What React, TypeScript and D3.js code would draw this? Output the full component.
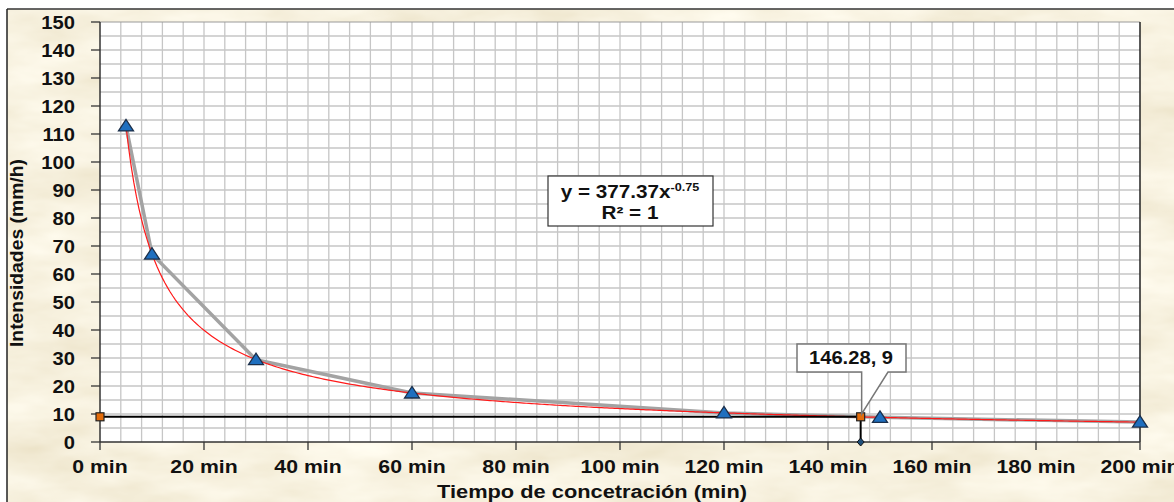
import React from "react";
import * as d3 from "d3";

const durations = [5, 10, 30, 60, 120, 150, 200];
const intensities = [112.9, 67.1, 29.4, 17.5, 10.4, 8.8, 7.1];
const trendCoef = 377.37;
const trendExp = -0.75;
const xTicks = [0, 20, 40, 60, 80, 100, 120, 140, 160, 180, 200];
const yTicks = [0, 10, 20, 30, 40, 50, 60, 70, 80, 90, 100, 110, 120, 130, 140, 150];
const markX = 146.28;
const markY = 9;

const W = 1174, H = 502;
const L = 100, R = 1140, T = 22, B = 442;
const FONT = "'Liberation Sans', Arial, sans-serif";
const SX = 1.18;

function ST(props: { x: number; y: number; size?: number; anchor?: string; sx?: number; children: React.ReactNode }) {
  const { x, y, size = 18, anchor = "middle", sx = SX, children } = props;
  return (
    <text transform={`translate(${x},${y}) scale(${sx},1)`} textAnchor={anchor} fontSize={size} fontWeight="bold" fill="#111">
      {children}
    </text>
  );
}

export default function App() {
  const x = d3.scaleLinear().domain([0, 200]).range([L, R]);
  const y = d3.scaleLinear().domain([0, 150]).range([B, T]);
  const pts = durations.map((d, i) => [d, intensities[i]] as [number, number]);
  const grayLine = d3.line<[number, number]>().x(d => x(d[0])).y(d => y(d[1]))(pts) || "";
  const curvePts: [number, number][] = d3.range(5, 200.01, 0.5).map(t => [t, trendCoef * Math.pow(t, trendExp)]);
  const redLine = d3.line<[number, number]>().x(d => x(d[0])).y(d => y(d[1]))(curvePts) || "";
  const vGrid = d3.range(4, 200, 4);
  const hGrid = d3.range(5, 150, 5);
  const mx = x(markX), my = y(markY);
  const tri = (cx: number, cy: number) => `M${cx - 7.5},${cy + 5} L${cx},${cy - 6.5} L${cx + 7.5},${cy + 5} Z`;
  const bx0 = 797, bx1 = 906, by0 = 344, by1 = 372;
  const callout = `M${bx0},${by0} L${bx1},${by0} L${bx1},${by1} L888,${by1} L${mx + 1},${my - 3} L${mx + 1},${by1} L${bx0},${by1} Z`;
  return (
    <svg width={W} height={H} style={{ position: "absolute", left: 0, top: 0 }} fontFamily={FONT}>
      <defs>
        <filter id="parch" x="0" y="0" width="100%" height="100%">
          <feTurbulence type="fractalNoise" baseFrequency="0.01 0.03" numOctaves={4} seed={7} result="n" />
          <feColorMatrix in="n" type="matrix"
            values="0.2 0 0 0 0.83  0.25 0 0 0 0.755  0.35 0 0 0 0.56  0 0 0 0 1" />
        </filter>
      </defs>
      <rect x={0} y={0} width={W} height={H} fill="#ffffff" />
      <rect x={7} y={9} width={W - 7} height={H - 9} fill="#ecdcb6" />
      <rect x={7} y={9} width={W - 7} height={H - 9} filter="url(#parch)" />
      <line x1={7} y1={9} x2={W} y2={9} stroke="#333" strokeWidth={1.5} />
      <line x1={7} y1={9} x2={7} y2={H} stroke="#222" strokeWidth={1.5} />

      <rect x={L} y={T} width={R - L} height={B - T} fill="#ffffff" />
      {vGrid.map(v => (
        <line key={"v" + v} x1={x(v)} x2={x(v)} y1={T} y2={B} stroke="#c6c6c6" strokeWidth={1.3} />
      ))}
      {hGrid.map(v => (
        <line key={"h" + v} x1={L} x2={R} y1={y(v)} y2={y(v)} stroke="#c6c6c6" strokeWidth={1.3} />
      ))}
      <line x1={L} x2={R} y1={T} y2={T} stroke="#9a9a9a" strokeWidth={1} />
      <line x1={R} x2={R} y1={T} y2={B} stroke="#222" strokeWidth={1.5} />
      <line x1={L} x2={L} y1={T} y2={B} stroke="#333" strokeWidth={1.5} />
      <line x1={L} x2={R} y1={B} y2={B} stroke="#333" strokeWidth={1.5} />

      {yTicks.map(v => (
        <g key={"yt" + v}>
          <line x1={L - 9} x2={L} y1={y(v)} y2={y(v)} stroke="#333" strokeWidth={1.3} />
          <ST x={75} y={y(v) + 6.5} anchor="end" sx={1.12}>{v}</ST>
        </g>
      ))}
      {xTicks.map(v => (
        <g key={"xt" + v}>
          <line x1={x(v)} x2={x(v)} y1={B} y2={B + 8} stroke="#333" strokeWidth={1.3} />
          <ST x={x(v)} y={473}>{v} min</ST>
        </g>
      ))}
      <text x={592} y={498} textAnchor="middle" fontSize={18} fontWeight="bold" fill="#111"
        textLength={310} lengthAdjust="spacingAndGlyphs">Tiempo de concetración (min)</text>
      <text transform="translate(23,253) rotate(-90)" textAnchor="middle" fontSize={18} fontWeight="bold" fill="#111"
        textLength={188} lengthAdjust="spacingAndGlyphs">Intensidades (mm/h)</text>

      <path d={grayLine} fill="none" stroke="#a3a3a3" strokeWidth={3.5} strokeLinejoin="round" />
      <path d={redLine} fill="none" stroke="#ff1a1a" strokeWidth={1.2} />

      <line x1={x(0)} x2={mx} y1={my} y2={my} stroke="#000" strokeWidth={2} />
      <line x1={mx} x2={mx} y1={my} y2={y(0)} stroke="#000" strokeWidth={2} />
      <rect x={x(0) - 4} y={my - 4} width={8} height={8} fill="#e46c0a" stroke="#222" strokeWidth={1.2} />
      <rect x={mx - 4} y={my - 4} width={8} height={8} fill="#e46c0a" stroke="#222" strokeWidth={1.2} />
      <path d={`M${mx},${y(0) - 4} L${mx + 3.5},${y(0)} L${mx},${y(0) + 4} L${mx - 3.5},${y(0)} Z`} fill="#1f4e79" stroke="#111" strokeWidth={1} />

      {pts.map((p, i) => (
        <path key={"p" + i} d={tri(x(p[0]), y(p[1]))} fill="#1f6fbf" stroke="#1b2f4a" strokeWidth={1.3} />
      ))}

      <rect x={548} y={176} width={165} height={50} fill="#ffffff" stroke="#333" strokeWidth={1.2} />
      <text transform={`translate(630,198) scale(1.15,1)`} textAnchor="middle" fontSize={18} fontWeight="bold" fill="#111">
        y = 377.37x<tspan dy={-7} fontSize={11}>-0.75</tspan>
      </text>
      <ST x={630} y={219} sx={1.15}>R² = 1</ST>

      <path d={callout} fill="#ffffff" stroke="#777" strokeWidth={1.5} />
      <ST x={851} y={364} sx={1.12}>146.28,  9</ST>
    </svg>
  );
}
